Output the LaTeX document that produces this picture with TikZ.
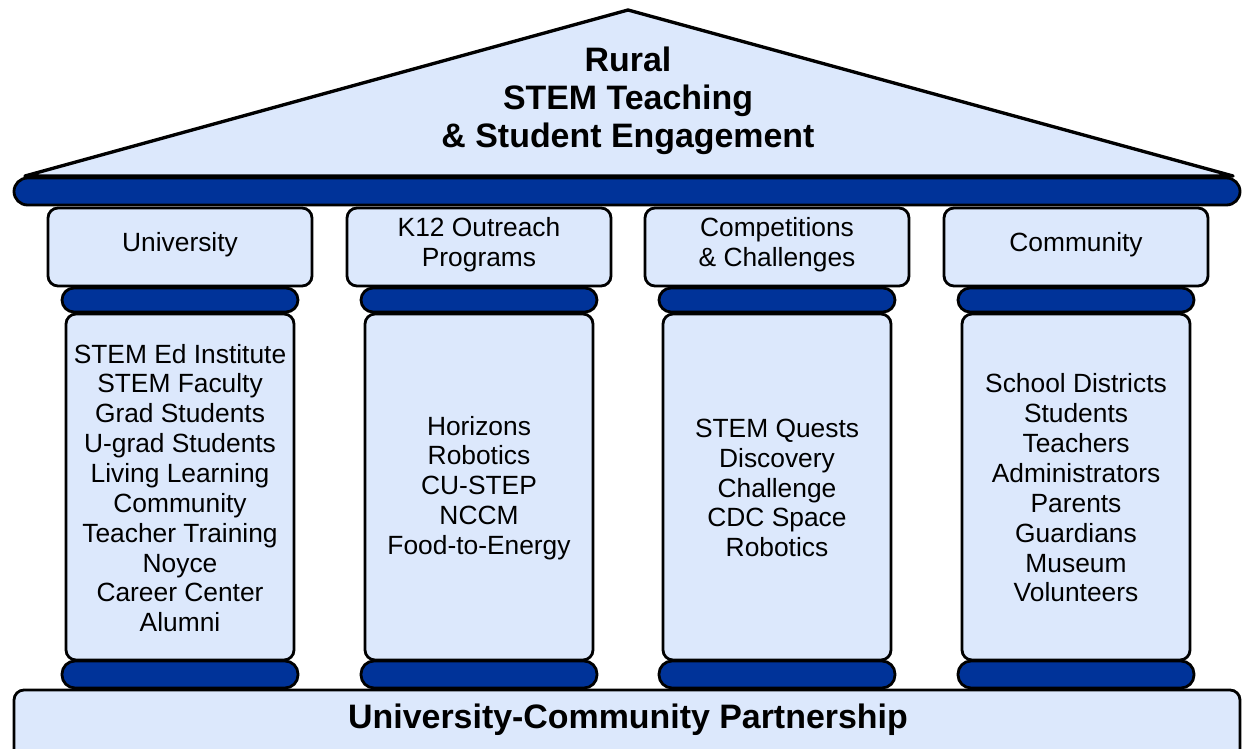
\documentclass[tikz,border=0pt]{standalone}
\usepackage{fontspec}
\setmainfont{Liberation Sans}
\definecolor{pillarlight}{RGB}{220,232,252}
\definecolor{pillardark}{RGB}{0,51,153}
\tikzset{
  light/.style={draw=black, line width=1.6pt, fill=pillarlight},
  dark/.style={draw=black, line width=1.6pt, fill=pillardark},
  coltext/.style={align=center, font=\fontsize{15}{17}\selectfont},
  bigtext/.style={align=center, font=\fontsize{19.3}{21.5}\selectfont\bfseries}
}

\begin{document}
\begin{tikzpicture}[x=0.02cm, y=-0.02cm]
  \useasboundingbox (0,0) rectangle (1243,749);
  \coordinate (apex) at (628,10);
  \coordinate (eaveL) at (25,176);
  \coordinate (eaveR) at (1233,176);
  % roof
  \draw[light, line width=1.9pt, line join=round] (eaveL) -- (apex) -- (eaveR) -- cycle;
  \node[bigtext] (roof) at (628,101) {Rural\\STEM Teaching\\\& Student Engagement};
  \draw[dark, rounded corners=0.27cm] (14,178) rectangle (1240,205);
  % base
  \draw[light, rounded corners=0.2cm] (14,690) rectangle (1240,760);
  \node[bigtext] (base) at (628,720) {University-Community Partnership};
  % columns
  \foreach \cx/\name/\head/\body in {
      180/uni/University/{STEM Ed Institute\\STEM Faculty\\Grad Students\\U-grad Students\\Living Learning\\Community\\Teacher Training\\Noyce\\Career Center\\Alumni},
      479/outreach/{K12 Outreach\\Programs}/{Horizons\\Robotics\\CU-STEP\\NCCM\\Food-to-Energy},
      777/comp/{Competitions\\\& Challenges}/{STEM Quests\\Discovery\\Challenge\\CDC Space\\Robotics},
      1076/comm/Community/{School Districts\\Students\\Teachers\\Administrators\\Parents\\Guardians\\Museum\\Volunteers}} {
    \draw[light, rounded corners=0.2cm] (\cx-132,208) rectangle (\cx+132,286);
    \node[coltext] (\name-head) at (\cx,245) {\head};
    \draw[dark, rounded corners=0.24cm] (\cx-118,288) rectangle (\cx+118,312);
    \draw[light, rounded corners=0.2cm] (\cx-114,314) rectangle (\cx+114,660);
    \node[coltext] (\name-body) at (\cx,488) {\body};
    \draw[dark, rounded corners=0.26cm] (\cx-118,661) rectangle (\cx+118,688);
  }
\end{tikzpicture}
\end{document}
